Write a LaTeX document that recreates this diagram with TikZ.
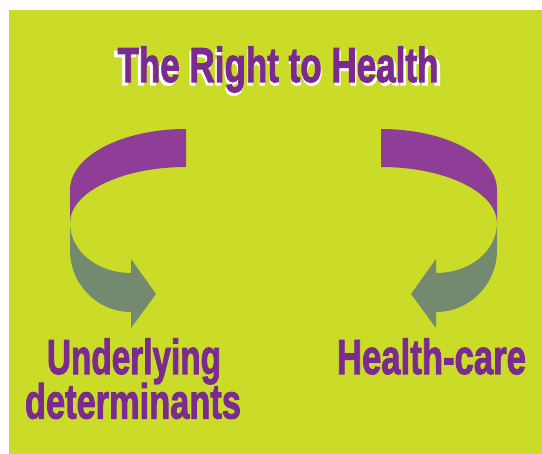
\documentclass[tikz,border=0pt]{standalone}
\usepackage{fontspec}
\usepackage{graphicx}
\newfontfamily\impactfont[FakeBold=2.2]{Liberation Sans Bold}
\definecolor{limebg}{RGB}{202,220,40}
\definecolor{titlepurple}{RGB}{123,42,144}
\definecolor{arrowpurple}{RGB}{142,62,150}
\definecolor{arrowgray}{RGB}{116,138,112}
\tikzset{
  lbl/.style={anchor=base, inner sep=0pt, outer sep=0pt, text=titlepurple, font=\impactfont\fontsize{49}{49}\selectfont},
  purpleband/.style={fill=arrowpurple, draw=none},
  grayband/.style={fill=arrowgray, draw=none}
}
\begin{document}
\begin{tikzpicture}[x=1pt, y=-1pt]
\useasboundingbox (0,0) rectangle (542,454);
\fill[limebg] (9,10) rectangle (542,454);
% title with white shadow
\node[lbl] (title) at (278,82) {\rlap{\hspace{-3.5pt}\raisebox{-3pt}{\color{white}\resizebox{328pt}{\height}{The Right to Health}}}\resizebox{321pt}{\height}{The Right to Health}};
% left arrow
\fill[purpleband] (186,129) -- (186,167) .. controls (122,167) and (70,192) .. (70,223)
  -- (70,190) .. controls (70,156) and (122,129) .. (186,129) -- cycle;
\fill[grayband] (70,223) -- (70,250) .. controls (70,284) and (97,312) .. (131,312)
  -- (131,328) -- (156,294) -- (131,259) -- (131,273)
  .. controls (97,273) and (70,251) .. (70,223) -- cycle;
% right arrow
\fill[purpleband] (381,129) -- (381,167) .. controls (445,167) and (497,192) .. (497,223)
  -- (497,190) .. controls (497,156) and (445,129) .. (381,129) -- cycle;
\fill[grayband] (497,223) -- (497,250) .. controls (497,284) and (470,312) .. (436,312)
  -- (436,328) -- (411,294) -- (436,259) -- (436,273)
  .. controls (470,273) and (497,251) .. (497,223) -- cycle;
% labels
\node[lbl] (under) at (134,374) {\resizebox{174pt}{\height}{Underlying}};
\node[lbl] (determ) at (133,418.5) {\resizebox{216pt}{\height}{determinants}};
\node[lbl] (hcare) at (431.5,374) {\resizebox{189pt}{\height}{Health-care}};
\end{tikzpicture}
\end{document}
